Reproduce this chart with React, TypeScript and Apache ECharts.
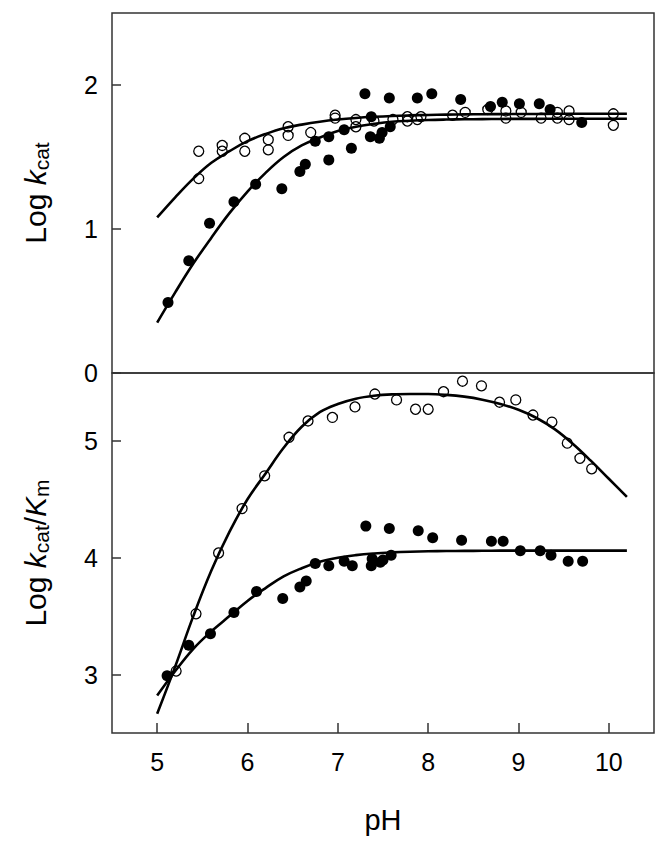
import React, { useEffect, useRef } from "react";
import * as echarts from "echarts";

const FONT = "'Liberation Sans', Arial, Helvetica, sans-serif";

// ---- Top panel: Log kcat ----
const kcatFilledPH = [5.12, 5.35, 5.58, 5.85, 6.09, 6.38, 6.58, 6.64, 6.75, 6.9, 6.9, 7.07, 7.15, 7.3, 7.36, 7.37, 7.46, 7.49, 7.57, 7.58, 7.88, 8.04, 8.36, 8.69, 8.82, 9.01, 9.23, 9.35, 9.7];
const kcatFilledLog = [0.49, 0.78, 1.04, 1.19, 1.31, 1.28, 1.4, 1.45, 1.61, 1.64, 1.48, 1.69, 1.56, 1.94, 1.64, 1.78, 1.63, 1.67, 1.91, 1.71, 1.91, 1.94, 1.9, 1.85, 1.88, 1.87, 1.87, 1.83, 1.74];

const kcatOpenPH = [5.46, 5.46, 5.72, 5.72, 5.97, 5.97, 6.23, 6.23, 6.45, 6.45, 6.7, 6.97, 6.97, 7.2, 7.2, 7.4, 7.61, 7.77, 7.77, 7.88, 7.92, 8.27, 8.41, 8.66, 8.86, 8.86, 9.03, 9.25, 9.43, 9.43, 9.56, 9.56, 10.05, 10.05];
const kcatOpenLog = [1.54, 1.35, 1.58, 1.54, 1.63, 1.54, 1.62, 1.55, 1.71, 1.65, 1.67, 1.79, 1.77, 1.76, 1.71, 1.75, 1.76, 1.78, 1.75, 1.76, 1.78, 1.79, 1.81, 1.83, 1.82, 1.77, 1.81, 1.77, 1.81, 1.77, 1.82, 1.76, 1.8, 1.72];

// ---- Bottom panel: Log kcat/Km ----
const kcmFilledPH = [5.11, 5.35, 5.59, 5.85, 6.1, 6.39, 6.58, 6.65, 6.75, 6.9, 7.07, 7.16, 7.31, 7.37, 7.38, 7.47, 7.5, 7.57, 7.59, 7.89, 8.05, 8.37, 8.7, 8.83, 9.02, 9.24, 9.36, 9.55, 9.71];
const kcmFilledLog = [2.99, 3.25, 3.35, 3.53, 3.71, 3.65, 3.75, 3.8, 3.95, 3.93, 3.97, 3.93, 4.27, 3.93, 3.99, 3.96, 3.98, 4.25, 4.02, 4.23, 4.17, 4.15, 4.14, 4.14, 4.06, 4.06, 4.02, 3.97, 3.97];

const kcmOpenPH = [5.21, 5.43, 5.68, 5.94, 6.19, 6.46, 6.67, 6.94, 7.19, 7.41, 7.65, 7.86, 8.0, 8.17, 8.38, 8.59, 8.79, 8.97, 9.16, 9.37, 9.54, 9.68, 9.81];
const kcmOpenLog = [3.03, 3.52, 4.04, 4.42, 4.7, 5.03, 5.17, 5.2, 5.29, 5.4, 5.35, 5.27, 5.27, 5.42, 5.51, 5.47, 5.33, 5.35, 5.22, 5.16, 4.98, 4.85, 4.76];

// ---- Fitted curves ----
const curvePH = [5.0, 5.2, 5.4, 5.6, 5.8, 6.0, 6.2, 6.4, 6.6, 6.8, 7.0, 7.2, 7.4, 7.6, 7.8, 8.0, 8.2, 8.4, 8.6, 8.8, 9.0, 9.2, 9.4, 9.6, 9.8, 10.0, 10.2];
const kcatOpenCurve = [1.08, 1.22, 1.35, 1.46, 1.54, 1.61, 1.66, 1.7, 1.725, 1.745, 1.76, 1.771, 1.779, 1.785, 1.789, 1.792, 1.794, 1.796, 1.797, 1.798, 1.799, 1.799, 1.8, 1.8, 1.8, 1.8, 1.8];
const kcatFilledCurve = [0.35, 0.56, 0.76, 0.94, 1.11, 1.26, 1.39, 1.5, 1.58, 1.635, 1.68, 1.71, 1.73, 1.745, 1.752, 1.757, 1.76, 1.762, 1.763, 1.764, 1.765, 1.765, 1.766, 1.766, 1.766, 1.766, 1.766];
const kcmOpenCurve = [2.665, 3.07, 3.5, 3.89, 4.22, 4.5, 4.72, 4.94, 5.12, 5.245, 5.315, 5.36, 5.385, 5.397, 5.4, 5.4, 5.393, 5.378, 5.352, 5.315, 5.265, 5.195, 5.1, 4.975, 4.83, 4.675, 4.52];
const kcmFilledCurve = [2.82, 3.03, 3.22, 3.37, 3.5, 3.63, 3.74, 3.84, 3.91, 3.965, 4.0, 4.022, 4.036, 4.045, 4.051, 4.055, 4.057, 4.058, 4.059, 4.06, 4.06, 4.06, 4.06, 4.06, 4.06, 4.06, 4.06];

// ---- Axis ticks ----
const xTicks = [5, 6, 7, 8, 9, 10];
const topYTicks = [0, 1, 2];
const bottomYTicks = [3, 4, 5];

const pair = (xs: number[], ys: number[]) => xs.map((x, i) => [x, ys[i]]);

const BORDER = "#333";

const titleRich = {
  l: { fontSize: 30, fontFamily: FONT, color: "#000", lineHeight: 32, verticalAlign: "top" },
  i: { fontSize: 30, fontFamily: FONT, fontStyle: "italic", color: "#000", lineHeight: 32, verticalAlign: "top" },
  s: { fontSize: 21, fontFamily: FONT, color: "#000", lineHeight: 22, padding: [15, 0, 0, 0], verticalAlign: "bottom" },
};

export default function App() {
  const ref = useRef<HTMLDivElement>(null);
  useEffect(() => {
    document.body.style.margin = "0";
    const chart = echarts.init(ref.current!, null, { renderer: "svg" });
    const filled = (name: string, xi: number, data: number[][]) => ({
      name,
      type: "scatter",
      xAxisIndex: xi,
      yAxisIndex: xi,
      data,
      symbol: "circle",
      symbolSize: 11,
      itemStyle: { color: "#000", opacity: 1 },
      z: 3,
    });
    const open = (name: string, xi: number, data: number[][]) => ({
      name,
      type: "scatter",
      xAxisIndex: xi,
      yAxisIndex: xi,
      data,
      symbol: "circle",
      symbolSize: 10,
      itemStyle: { color: "rgba(0,0,0,0)", borderColor: "#000", borderWidth: 1.3, opacity: 1 },
      z: 3,
    });
    const curve = (name: string, xi: number, ys: number[]) => ({
      name,
      type: "line",
      xAxisIndex: xi,
      yAxisIndex: xi,
      data: pair(curvePH, ys),
      smooth: 0.4,
      showSymbol: false,
      symbol: "none",
      lineStyle: { color: "#000", width: 2.6 },
      z: 4,
    });
    chart.setOption({
      animation: false,
      backgroundColor: "#fff",
      grid: [
        { left: 112, top: 13, width: 542, height: 360, show: true, borderColor: BORDER, borderWidth: 1.5, backgroundColor: "transparent" },
        { left: 112, top: 373, width: 542, height: 360, show: true, borderColor: BORDER, borderWidth: 1.5, backgroundColor: "transparent" },
      ],
      xAxis: [
        { type: "value", gridIndex: 0, min: 4.5, max: 10.5, show: false, splitLine: { show: false } },
        {
          type: "value",
          gridIndex: 1,
          min: 4.5,
          max: 10.5,
          splitLine: { show: false },
          axisLine: { show: false },
          axisTick: { show: true, inside: true, length: 10, customValues: xTicks, lineStyle: { color: BORDER, width: 1.5 } },
          axisLabel: { customValues: xTicks, fontSize: 25, fontFamily: FONT, color: "#000", margin: 16 },
          name: "pH",
          nameLocation: "middle",
          nameGap: 72,
          nameTextStyle: { fontSize: 29, fontFamily: FONT, color: "#000" },
        },
      ],
      yAxis: [
        {
          type: "value",
          gridIndex: 0,
          min: 0,
          max: 2.5,
          splitLine: { show: false },
          axisLine: { show: false },
          axisTick: { show: true, inside: true, length: 9, customValues: topYTicks, lineStyle: { color: BORDER, width: 1.5 } },
          axisLabel: { customValues: topYTicks, fontSize: 25, fontFamily: FONT, color: "#000", margin: 14 },
          name: "{l|Log }{i|k}{s|cat}",
          nameLocation: "middle",
          nameRotate: 90,
          nameGap: 60,
          nameTextStyle: { rich: titleRich },
        },
        {
          type: "value",
          gridIndex: 1,
          min: 2.5,
          max: 5.58,
          splitLine: { show: false },
          axisLine: { show: false },
          axisTick: { show: true, inside: true, length: 9, customValues: bottomYTicks, lineStyle: { color: BORDER, width: 1.5 } },
          axisLabel: { customValues: bottomYTicks, fontSize: 25, fontFamily: FONT, color: "#000", margin: 14 },
          name: "{l|Log }{i|k}{s|cat}{l|/}{i|K}{s|m}",
          nameLocation: "middle",
          nameRotate: 90,
          nameGap: 60,
          nameTextStyle: { rich: titleRich },
        },
      ],
      series: [
        filled("kcat filled", 0, pair(kcatFilledPH, kcatFilledLog)),
        open("kcat open", 0, pair(kcatOpenPH, kcatOpenLog)),
        curve("kcat open fit", 0, kcatOpenCurve),
        curve("kcat filled fit", 0, kcatFilledCurve),
        filled("kcat/Km filled", 1, pair(kcmFilledPH, kcmFilledLog)),
        open("kcat/Km open", 1, pair(kcmOpenPH, kcmOpenLog)),
        curve("kcat/Km open fit", 1, kcmOpenCurve),
        curve("kcat/Km filled fit", 1, kcmFilledCurve),
      ],
    });
    return () => chart.dispose();
  }, []);
  return <div ref={ref} style={{ width: 670, height: 848 }} />;
}
